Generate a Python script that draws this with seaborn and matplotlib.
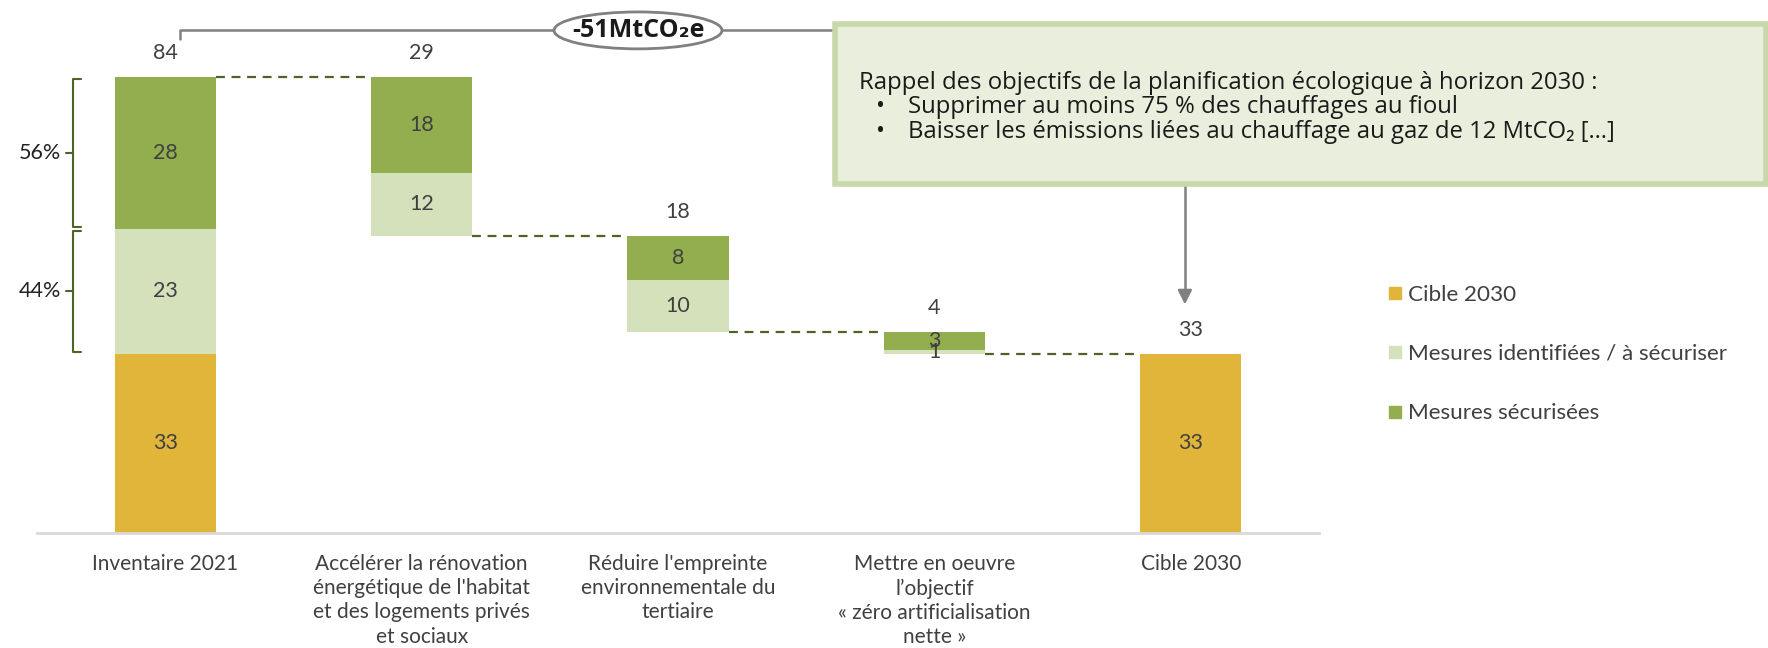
import matplotlib
matplotlib.use("Agg")
import matplotlib.pyplot as plt
from matplotlib.patches import Ellipse, Rectangle
from matplotlib.lines import Line2D
import seaborn as sns

# Données (MtCO2e)
categories = [
    "Inventaire 2021",
    "Accélérer la rénovation\nénergétique de l'habitat\net des logements privés\net sociaux",
    "Réduire l'empreinte\nenvironnementale du\ntertiaire",
    "Mettre en oeuvre\nl’objectif\n« zéro artificialisation\nnette »",
    "Cible 2030",
]
cible = [33, 0, 0, 0, 33]
identifiees = [23, 11.6, 9.7, 0.7, 0]
securisees = [28, 17.6, 8.1, 3.3, 0]
totaux = [84, 29, 18, 4, 33]
parts = ["56%", "44%"]
ecart = "-51MtCO₂e"

gold = "#E1B53A"
light = "#D4E1BB"
dark = "#92AE4F"
olive = "#4F6228"
txt = "#404040"

sns.set_theme(style="white")
plt.rcParams["font.family"] = ["Lato", "DejaVu Sans"]

# bases des barres flottantes
top = cible[0] + identifiees[0] + securisees[0]
bottom_light = [cible[0]]
level = top
for i in range(1, 4):
    level = level - identifiees[i] - securisees[i]
    bottom_light.append(level)
bottom_light.append(0)
bottom_dark = [b + h for b, h in zip(bottom_light, identifiees)]
bar_tops = [b + h for b, h in zip(bottom_dark, securisees)]
bar_tops[4] = cible[4]

fig = plt.figure(figsize=(17.68, 6.48), dpi=100)
ax = fig.add_axes([37 / 1768, 115 / 648, (1319 - 37) / 1768, 533 / 648])

w = 0.394
sns.barplot(x=categories, y=cible, color=gold, width=w, saturation=1,
            errorbar=None, linewidth=0, ax=ax)
sns.barplot(x=categories, y=identifiees, bottom=bottom_light, color=light,
            width=w, saturation=1, errorbar=None, linewidth=0, ax=ax)
sns.barplot(x=categories, y=securisees, bottom=bottom_dark, color=dark,
            width=w, saturation=1, errorbar=None, linewidth=0, ax=ax)

ax.set_xlim(-0.5, 4.5)
ax.set_ylim(0, 98.2)
ax.set_yticks([])
ax.set_xlabel("")
ax.set_ylabel("")
for s in ["top", "left", "right"]:
    ax.spines[s].set_visible(False)
ax.spines["bottom"].set_color("#D9D9D9")
ax.spines["bottom"].set_linewidth(2)
ax.tick_params(axis="x", length=0, pad=15, labelsize=15, labelcolor=txt)
for lab in ax.get_xticklabels():
    lab.set_linespacing(1.27)
    lab.set_verticalalignment("top")

# valeurs dans les segments
for i in range(5):
    segs = [(0, cible[i]), (bottom_light[i], identifiees[i]), (bottom_dark[i], securisees[i])]
    for b, h in segs:
        if h > 0:
            ax.text(i, b + h / 2, f"{round(h)}", ha="center", va="center",
                    fontsize=15.5, color=txt)
    ax.text(i, bar_tops[i] + 4.4, f"{totaux[i]}", ha="center", va="center",
            fontsize=15.5, color=txt)

# connecteurs pointillés
for i in range(4):
    y = bar_tops[i + 1]
    ax.plot([i + w / 2, i + 1 - w / 2], [y, y], ls=(0, (4, 3)), color=olive, lw=1.6)

# accolades 56% / 44%
bx = -0.36
for (y0, y1), lab in zip([(bottom_dark[0], top), (bottom_light[0], bottom_dark[0])], parts):
    y0 += 0.3
    y1 -= 0.3
    ax.plot([bx + 0.03, bx, bx, bx + 0.03], [y1, y1, y0, y0], color=olive, lw=1.5,
            clip_on=False, solid_joinstyle="round")
    ym = (y0 + y1) / 2
    ax.plot([bx, bx - 0.025], [ym, ym], color=olive, lw=1.5, clip_on=False)
    ax.text(bx - 0.045, ym, lab, ha="right", va="center", fontsize=15.5, color="#222222",
            clip_on=False)

# accolade supérieure et flèche vers la cible
yb = 92.6
xl, xr = 0.058, 3.977
ax.plot([xl, xl, xr, xr], [91.0, yb, yb, 43.5], color="#808080", lw=1.8, zorder=1,
        clip_on=False)
ax.annotate("", xy=(xr, 41.6), xytext=(xr, 44.5),
            arrowprops=dict(arrowstyle="-|>,head_length=0.7,head_width=0.35",
                            color="#808080", lw=1.8))
ax.add_patch(Ellipse((1.844, yb), 0.655, 6.8, facecolor="white", edgecolor="#808080",
                     lw=2, zorder=3, clip_on=False))
ax.text(1.844, yb, ecart, ha="center", va="center", fontsize=18, fontweight="bold",
        color="#1a1a1a", zorder=4, family=["Open Sans", "DejaVu Sans"])

# encadré
box = Rectangle((835 / 1768, 1 - 184 / 648), (1766 - 835) / 1768, (184 - 24) / 648,
                transform=fig.transFigure, facecolor="#EAEEDC", edgecolor="#C9D8A9",
                lw=4, zorder=5)
fig.patches.append(box)
fam = ["Open Sans", "DejaVu Sans"]
fs = 17.2
fig.text(859 / 1768, 1 - 83 / 648, "Rappel des objectifs de la planification écologique à horizon 2030 :",
         fontsize=fs, color="#1a1a1a", va="center", family=fam, zorder=6)
for k, line in enumerate(["Supprimer au moins 75 % des chauffages au fioul",
                          "Baisser les émissions liées au chauffage au gaz de 12 MtCO₂ […]"]):
    yy = 1 - (107 + 25 * k) / 648
    fig.text(876 / 1768, yy, "•", fontsize=fs, color="#1a1a1a", va="center", family=fam, zorder=6)
    fig.text(908 / 1768, yy, line, fontsize=fs, color="#1a1a1a", va="center", family=fam, zorder=6)

# légende
handles = [Line2D([], [], marker="s", ls="", color=c, markersize=8)
           for c in [gold, light, dark]]
fig.legend(handles, ["Cible 2030", "Mesures identifiées / à sécuriser", "Mesures sécurisées"],
           loc="center left", bbox_to_anchor=(1363 / 1768, 1 - 354 / 648), frameon=False,
           fontsize=16.2, labelspacing=1.75, handletextpad=0.1, handlelength=1.0,
           labelcolor=txt)

fig.savefig("out.png", dpi=100)
